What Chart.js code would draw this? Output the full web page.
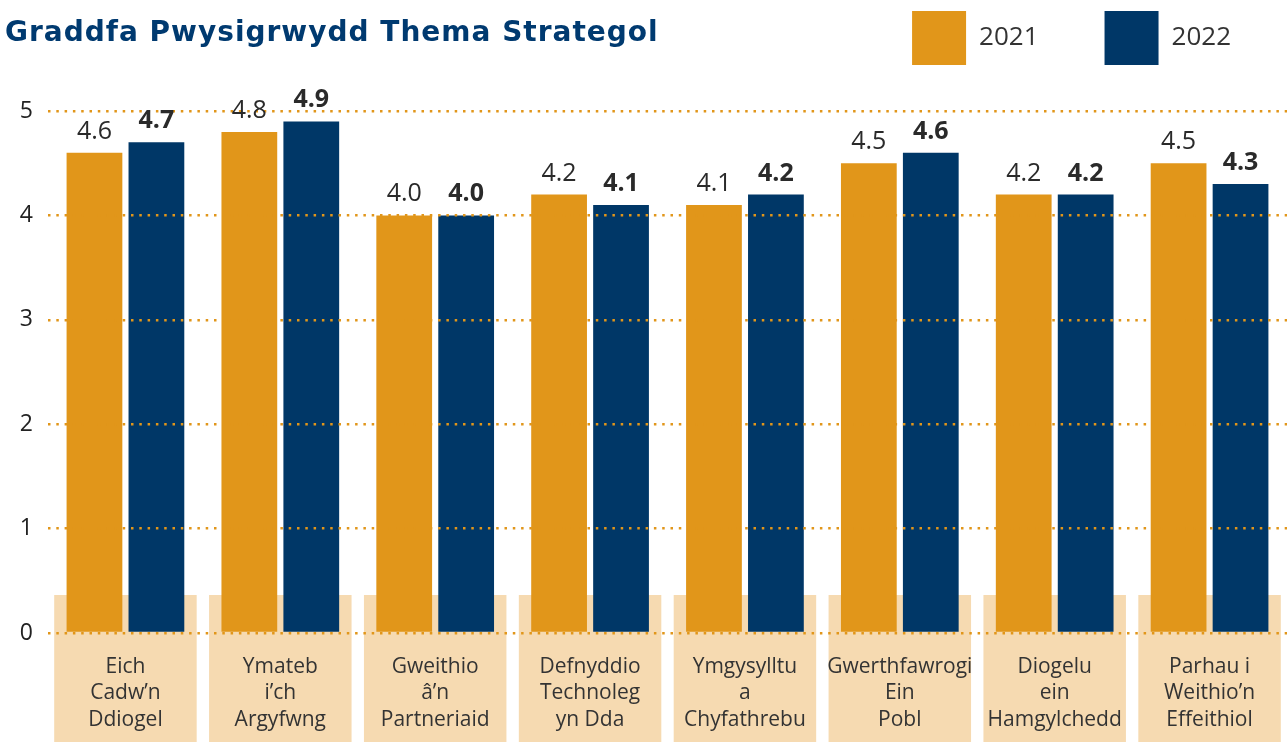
<!DOCTYPE html>
<html>
<head>
<meta charset="utf-8">
<script src="https://cdn.jsdelivr.net/npm/chart.js@4.4.1/dist/chart.umd.min.js"></script>
<style>
  html, body { margin: 0; padding: 0; background: #fff; }
  #wrap { position: relative; width: 1287px; height: 742px; }
  #titulo { position: absolute; left: 5px; top: 15px; margin: 0; line-height: 1; font: bold 28px "DejaVu Sans"; letter-spacing: 1px; color: #003a70; white-space: nowrap; }
  canvas { display: block; }
</style>
</head>
<body>
<div id="wrap">
  <h1 id="titulo">Graddfa Pwysigrwydd Thema Strategol</h1>
  <canvas id="myChart" width="1287" height="742"></canvas>
</div>
<script>
// datos
const categorias = [
  ['Eich', 'Cadw’n', 'Ddiogel'],
  ['Ymateb', 'i’ch', 'Argyfwng'],
  ['Gweithio', 'â’n', 'Partneriaid'],
  ['Defnyddio', 'Technoleg', 'yn Dda'],
  ['Ymgysylltu', 'a', 'Chyfathrebu'],
  ['Gwerthfawrogi', 'Ein', 'Pobl'],
  ['Diogelu', 'ein', 'Hamgylchedd'],
  ['Parhau i', 'Weithio’n', 'Effeithiol']
];
const series = ['2021', '2022'];
const valores2021 = [4.6, 4.8, 4.0, 4.2, 4.1, 4.5, 4.2, 4.5];
const valores2022 = [4.7, 4.9, 4.0, 4.1, 4.2, 4.6, 4.2, 4.3];
const ticksY = [0, 1, 2, 3, 4, 5];

const naranja = '#e1961a';
const azul = '#003767';

// cajas beige detras de las etiquetas
const cajas = {
  id: 'cajas',
  beforeDraw(chart) {
    const { ctx, chartArea, scales: { x } } = chart;
    const paso = x.getPixelForValue(1) - x.getPixelForValue(0);
    const ancho = paso * 0.92;
    const top = chartArea.bottom - 38;
    ctx.save();
    ctx.fillStyle = '#f6dab1';
    categorias.forEach((c, i) => {
      const cx = x.getPixelForValue(i);
      ctx.fillRect(cx - ancho / 2, top, ancho, chart.height - top);
    });
    ctx.restore();
  }
};

// valores encima de las barras
const etiquetas = {
  id: 'etiquetas',
  afterDraw(chart) {
    const ctx = chart.ctx;
    chart.data.datasets.forEach((ds, i) => {
      const meta = chart.getDatasetMeta(i);
      meta.data.forEach((bar, j) => {
        ctx.save();
        ctx.font = (i === 1 ? 'bold ' : '') + '25px "Open Sans"';
        ctx.fillStyle = '#2a2a2a';
        ctx.textAlign = 'center';
        ctx.textBaseline = 'alphabetic';
        ctx.fillText(ds.data[j].toFixed(1), bar.x, bar.y - 14);
        ctx.restore();
      });
    });
  }
};

// la leyenda va en la misma fila que el titulo
const ajusteLeyenda = {
  id: 'ajusteLeyenda',
  afterInit(chart) {
    const lg = chart.legend;
    const fit = lg.fit;
    lg.fit = function () { fit.call(this); this.height = 111; };
    const dibujar = lg._draw;
    lg._draw = function () {
      const c = this.ctx;
      c.save();
      c.translate(10, -55);
      dibujar.call(this);
      c.restore();
    };
  }
};

const chart = new Chart(document.getElementById('myChart'), {
  type: 'bar',
  data: {
    labels: categorias,
    datasets: [
      { label: series[0], data: valores2021, backgroundColor: naranja, borderWidth: 0, categoryPercentage: 0.8, barPercentage: 0.9 },
      { label: series[1], data: valores2022, backgroundColor: azul, borderWidth: 0, categoryPercentage: 0.8, barPercentage: 0.9 }
    ]
  },
  options: {
    responsive: false,
    animation: false,
    layout: { padding: 0 },
    plugins: {
      legend: {
        position: 'top',
        align: 'end',
        labels: { boxWidth: 54, boxHeight: 54, padding: 66, color: '#333', font: { family: 'Open Sans', size: 26 } }
      },
      tooltip: { enabled: false }
    },
    scales: {
      x: {
        grid: { display: false, drawTicks: false },
        border: { display: false },
        ticks: { color: '#333', font: { family: 'Open Sans', size: 21, lineHeight: 1.25 }, padding: 21, maxRotation: 0, autoSkip: false },
        afterFit: s => { s.height = 109; }
      },
      y: {
        min: 0,
        max: 5,
        afterBuildTicks: s => { s.ticks = ticksY.map(v => ({ value: v })); },
        grid: { color: naranja, lineWidth: 2.5, z: 1, drawTicks: false },
        border: { display: false, dash: [2.5, 5.8] },
        ticks: { color: '#222', font: { family: 'Open Sans', size: 23 }, padding: 15 },
        afterFit: s => { s.width = 48; }
      }
    }
  },
  plugins: [cajas, etiquetas, ajusteLeyenda]
});
</script>
</body>
</html>
